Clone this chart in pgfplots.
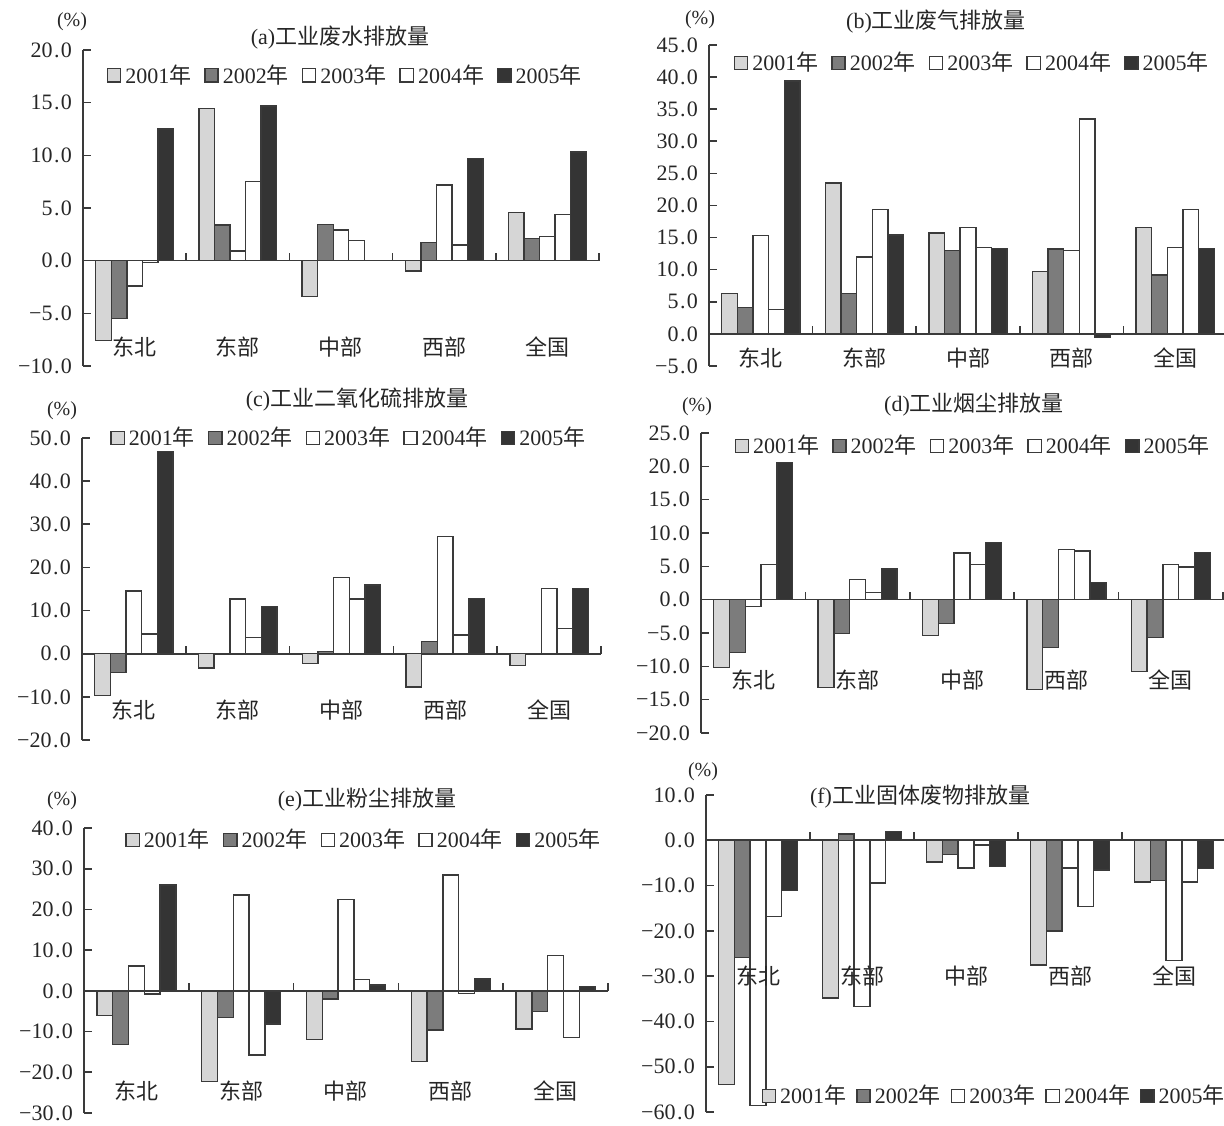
\documentclass[border=0pt]{standalone}
\usepackage{fontspec}
\setmainfont{Liberation Serif}
\newfontfamily\cjk{Noto Sans CJK SC}
\usepackage{pgfplots}
\pgfplotsset{compat=1.18}
\definecolor{cA}{HTML}{D6D6D6}
\definecolor{cB}{HTML}{7C7C7C}
\definecolor{cE}{HTML}{343434}
\definecolor{ln}{HTML}{3A3A3A}
\newcommand\zh[1]{{\cjk #1}}
\newcommand\fs{\fontsize{11}{13}\selectfont}
\newcommand\tl[2]{#1\kern0.7pt.\kern0.7pt#2}
\newcommand\cats[1]{%
  \node[catl] at (axis cs:0,#1) {东北};
  \node[catl] at (axis cs:1,#1) {东部};
  \node[catl] at (axis cs:2,#1) {中部};
  \node[catl] at (axis cs:3,#1) {西部};
  \node[catl] at (axis cs:4,#1) {全国};}
\tikzset{catl/.style={font=\fs\cjk, text=black!85},
  ttl/.style={font=\fs, text=black!85},
  pct/.style={font=\fontsize{10}{12}\selectfont, text=black!85}}
\pgfplotsset{
  ybar legend/.style={legend image code/.code={\draw[##1,/tikz/.cd] (0pt,-3.3pt) rectangle (6.6pt,3.3pt);}},
  panel/.style={
    scale only axis, anchor=south west, clip=false,
    axis y line=left, axis x line=middle,
    axis line style={-, ln, line width=0.8pt},
    xmin=-0.5, xmax=4.5,
    xtick={0.5,1.5,2.5,3.5,4.5}, xticklabels={},
    ybar=0pt, bar width=0.151,
    major tick length=4pt,
    tick style={ln, line width=0.8pt},
    xtick align=inside, ytick align=inside,
    yticklabel style={font=\fs, text=black!85, xshift=-2pt},
    legend style={draw=none, fill=none, font=\fs, text=black!85, legend columns=5, anchor=center, inner sep=0pt,
      /tikz/every even column/.append style={column sep=4.5pt}},
    legend cell align=left,
  },
  s1/.style={fill=cA, draw=ln, line width=0.7pt},
  s2/.style={fill=cB, draw=ln, line width=0.7pt},
  s3/.style={fill=white, draw=ln, line width=0.7pt},
  s4/.style={fill=white, draw=ln, line width=0.7pt},
  s5/.style={fill=cE, draw=ln, line width=0.7pt},
}
\begin{document}
\begin{tikzpicture}
\useasboundingbox (0pt,0pt) rectangle (612pt,562.5pt);
% (a)
\begin{axis}[panel, at={(41.5pt,379.5pt)}, width=258pt, height=158pt,
  ymin=-10, ymax=20, ytick={-10,-5,0,5,10,15,20},
  yticklabels={\tl{−10}{0},\tl{−5}{0},\tl{0}{0},\tl{5}{0},\tl{10}{0},\tl{15}{0},\tl{20}{0}},
  legend style={at={(rel axis cs:0.51,0.92)}}]
\addplot[s1] coordinates {(0,-7.6) (1,14.45) (2,-3.4) (3,-1.0) (4,4.6)};
\addplot[s2] coordinates {(0,-5.5) (1,3.4) (2,3.45) (3,1.7) (4,2.1)};
\addplot[s3] coordinates {(0,-2.4) (1,0.9) (2,2.9) (3,7.2) (4,2.3)};
\addplot[s4] coordinates {(0,-0.2) (1,7.5) (2,1.9) (3,1.5) (4,4.4)};
\addplot[s5] coordinates {(0,12.5) (1,14.7) (3,9.7) (4,10.3)};
\legend{2001\zh{年},2002\zh{年},2003\zh{年},2004\zh{年},2005\zh{年}}
\cats{-8.2}
\end{axis}
% (b)
\begin{axis}[panel, at={(354.5pt,379.5pt)}, width=259pt, height=160.5pt,
  ymin=-5, ymax=45, ytick={-5,0,5,10,15,20,25,30,35,40,45},
  yticklabels={\tl{−5}{0},\tl{0}{0},\tl{5}{0},\tl{10}{0},\tl{15}{0},\tl{20}{0},\tl{25}{0},\tl{30}{0},\tl{35}{0},\tl{40}{0},\tl{45}{0}},
  legend style={at={(rel axis cs:0.51,0.944)}}]
\addplot[s1] coordinates {(0,6.3) (1,23.5) (2,15.7) (3,9.7) (4,16.6)};
\addplot[s2] coordinates {(0,4.1) (1,6.3) (2,13.0) (3,13.2) (4,9.2)};
\addplot[s3] coordinates {(0,15.3) (1,12.0) (2,16.6) (3,13.0) (4,13.5)};
\addplot[s4] coordinates {(0,3.8) (1,19.4) (2,13.5) (3,33.5) (4,19.4)};
\addplot[s5] coordinates {(0,39.4) (1,15.4) (2,13.3) (3,-0.6) (4,13.3)};
\legend{2001\zh{年},2002\zh{年},2003\zh{年},2004\zh{年},2005\zh{年}}
\cats{-3.7}
\end{axis}
% (c)
\begin{axis}[panel, at={(41pt,192.5pt)}, width=259.5pt, height=151pt,
  ymin=-20, ymax=50, ytick={-20,-10,0,10,20,30,40,50},
  yticklabels={\tl{−20}{0},\tl{−10}{0},\tl{0}{0},\tl{10}{0},\tl{20}{0},\tl{30}{0},\tl{40}{0},\tl{50}{0}},
  legend style={at={(rel axis cs:0.516,1.0)}}]
\addplot[s1] coordinates {(0,-9.7) (1,-3.3) (2,-2.2) (3,-7.7) (4,-2.7)};
\addplot[s2] coordinates {(0,-4.3) (2,0.5) (3,2.9)};
\addplot[s3] coordinates {(0,14.5) (1,12.7) (2,17.7) (3,27.1) (4,15.1)};
\addplot[s4] coordinates {(0,4.6) (1,3.8) (2,12.7) (3,4.3) (4,5.9)};
\addplot[s5] coordinates {(0,46.9) (1,10.9) (2,15.9) (3,12.8) (4,15.1)};
\legend{2001\zh{年},2002\zh{年},2003\zh{年},2004\zh{年},2005\zh{年}}
\cats{-13}
\end{axis}
% (d)
\begin{axis}[panel, at={(350.5pt,196pt)}, width=261pt, height=150pt,
  ymin=-20, ymax=25, ytick={-20,-15,-10,-5,0,5,10,15,20,25},
  yticklabels={\tl{−20}{0},\tl{−15}{0},\tl{−10}{0},\tl{−5}{0},\tl{0}{0},\tl{5}{0},\tl{10}{0},\tl{15}{0},\tl{20}{0},\tl{25}{0}},
  legend style={at={(rel axis cs:0.523,0.957)}}]
\addplot[s1] coordinates {(0,-10.2) (1,-13.2) (2,-5.35) (3,-13.5) (4,-10.75)};
\addplot[s2] coordinates {(0,-7.9) (1,-5.1) (2,-3.6) (3,-7.2) (4,-5.65)};
\addplot[s3] coordinates {(0,-1.0) (1,3.05) (2,7.0) (3,7.55) (4,5.25)};
\addplot[s4] coordinates {(0,5.25) (1,1.05) (2,5.25) (3,7.3) (4,4.9)};
\addplot[s5] coordinates {(0,20.55) (1,4.6) (2,8.55) (3,2.6) (4,7.05)};
\legend{2001\zh{年},2002\zh{年},2003\zh{年},2004\zh{年},2005\zh{年}}
\cats{-12}
\end{axis}
% (e)
\begin{axis}[panel, at={(42pt,6pt)}, width=262pt, height=142.5pt,
  ymin=-30, ymax=40, ytick={-30,-20,-10,0,10,20,30,40},
  yticklabels={\tl{−30}{0},\tl{−20}{0},\tl{−10}{0},\tl{0}{0},\tl{10}{0},\tl{20}{0},\tl{30}{0},\tl{40}{0}},
  legend style={at={(rel axis cs:0.536,0.958)}}]
\addplot[s1] coordinates {(0,-6.1) (1,-22.3) (2,-11.9) (3,-17.3) (4,-9.4)};
\addplot[s2] coordinates {(0,-13.1) (1,-6.6) (2,-2.0) (3,-9.6) (4,-5.1)};
\addplot[s3] coordinates {(0,6.1) (1,23.5) (2,22.5) (3,28.5) (4,8.7)};
\addplot[s4] coordinates {(0,-0.8) (1,-15.8) (2,2.8) (3,-0.7) (4,-11.5)};
\addplot[s5] coordinates {(0,26.0) (1,-8.1) (2,1.4) (3,2.9) (4,1.0)};
\legend{2001\zh{年},2002\zh{年},2003\zh{年},2004\zh{年},2005\zh{年}}
\cats{-24.5}
\end{axis}
% (f)
\begin{axis}[panel, at={(353pt,6.5pt)}, width=260pt, height=158.5pt,
  ymin=-60, ymax=10, ytick={-60,-50,-40,-30,-20,-10,0,10},
  yticklabels={\tl{−60}{0},\tl{−50}{0},\tl{−40}{0},\tl{−30}{0},\tl{−20}{0},\tl{−10}{0},\tl{0}{0},\tl{10}{0}},
  legend style={at={(rel axis cs:0.556,0.05)}, /tikz/every even column/.append style={column sep=3pt}}]
\addplot[s1] coordinates {(0,-53.9) (1,-34.8) (2,-4.8) (3,-27.5) (4,-9.2)};
\addplot[s2] coordinates {(0,-25.9) (1,1.4) (2,-3.2) (3,-20.0) (4,-8.9)};
\addplot[s3] coordinates {(0,-58.5) (1,-36.7) (2,-6.1) (3,-6.1) (4,-26.6)};
\addplot[s4] coordinates {(0,-16.8) (1,-9.4) (2,-1.0) (3,-14.6) (4,-9.2)};
\addplot[s5] coordinates {(0,-11.1) (1,2.0) (2,-5.8) (3,-6.6) (4,-6.2)};
\legend{2001\zh{年},2002\zh{年},2003\zh{年},2004\zh{年},2005\zh{年}}
\cats{-30}
\end{axis}
% titles
\node[ttl] at (170pt,543.5pt) {(a)\zh{工业废水排放量}};
\node[ttl] at (468pt,551.5pt) {(b)\zh{工业废气排放量}};
\node[ttl] at (178.5pt,362.5pt) {(c)\zh{工业二氧化硫排放量}};
\node[ttl] at (487pt,360pt) {(d)\zh{工业烟尘排放量}};
\node[ttl] at (183.5pt,162.5pt) {(e)\zh{工业粉尘排放量}};
\node[ttl] at (460pt,164pt) {(f)\zh{工业固体废物排放量}};
% percent
\node[pct] at (36pt,551.5pt) {(\%)};
\node[pct] at (350pt,552.5pt) {(\%)};
\node[pct] at (31pt,357pt) {(\%)};
\node[pct] at (348.5pt,359pt) {(\%)};
\node[pct] at (31pt,162pt) {(\%)};
\node[pct] at (351.5pt,176.5pt) {(\%)};
\end{tikzpicture}
\end{document}
